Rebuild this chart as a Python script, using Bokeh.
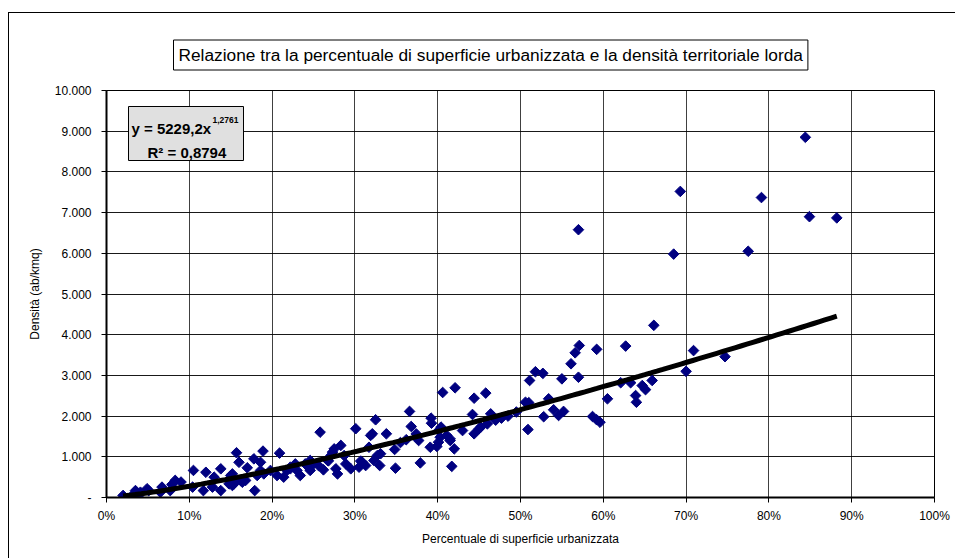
import math
from bokeh.plotting import figure
from bokeh.models import (Range1d, NumeralTickFormatter, CustomJSTickFormatter,
                          FixedTicker, Label, BoxAnnotation, ColumnDataSource, Title)
from bokeh.embed import file_html
from bokeh.resources import INLINE

# ---------------- data ----------------
# share of urbanised surface (fraction) and gross territorial density (ab/kmq)
urban_share = [
    0.570, 0.693, 0.685, 0.661, 0.791, 0.775, 0.844, 0.849, 0.882, 0.709,
    0.700, 0.747, 0.627, 0.571, 0.566, 0.592, 0.561, 0.518, 0.527, 0.511,
    0.550, 0.570, 0.621, 0.633, 0.647, 0.651, 0.659, 0.639, 0.640, 0.605,
    0.506, 0.510, 0.534, 0.540, 0.546, 0.552, 0.528, 0.587, 0.592, 0.596,
    0.509, 0.406, 0.421, 0.444, 0.458, 0.366, 0.325, 0.392, 0.368, 0.3925,
    0.338, 0.442, 0.464, 0.477, 0.460, 0.450, 0.444, 0.430, 0.404, 0.411,
    0.415, 0.401, 0.391, 0.399, 0.420, 0.377, 0.374, 0.348, 0.331, 0.330,
    0.323, 0.349, 0.379, 0.417, 0.321, 0.401, 0.403, 0.415, 0.452, 0.258,
    0.301, 0.319, 0.209, 0.189, 0.157, 0.160, 0.178, 0.186, 0.170, 0.179,
    0.275, 0.283, 0.271, 0.267, 0.287, 0.289, 0.277, 0.262, 0.295, 0.305,
    0.307, 0.313, 0.327, 0.317, 0.218, 0.206, 0.214, 0.230, 0.234, 0.246,
    0.250, 0.242, 0.228, 0.152, 0.162, 0.154, 0.168, 0.190, 0.198, 0.256,
    0.020, 0.035, 0.041, 0.049, 0.039, 0.067, 0.065, 0.077, 0.083, 0.079,
    0.105, 0.104, 0.120, 0.117, 0.130, 0.138, 0.138, 0.128, 0.150, 0.152,
    0.273, 0.279, 0.309, 0.222, 0.246, 0.222, 0.240, 0.033, 0.148, 0.164,
    0.182, 0.186, 0.090, 0.051, 0.355, 0.362, 0.470, 0.485, 0.495, 0.268,
]
density = [
    6580, 7520, 5980, 4230, 7370, 6050, 8850, 6900, 6870, 3610,
    3100, 3460, 3720, 3735, 3555, 3640, 3285, 3090, 3050, 2875,
    2915, 2955, 2820, 2820, 2750, 2650, 2875, 2505, 2340, 2425,
    2340, 2330, 2425, 2155, 2015, 2115, 1985, 1990, 1910, 1850,
    1670, 2580, 2695, 2440, 2565, 2115, 1910, 1950, 1745, 1825,
    1565, 2040, 2055, 1950, 1810, 1690, 1565, 1645, 1730, 1525,
    1400, 1360, 1235, 1255, 1195, 1400, 1565, 1180, 1075, 785,
    910, 720, 850, 765, 1565, 1645, 1480, 1440, 1730, 1605,
    1690, 1525, 1090, 1140, 1100, 865, 950, 865, 730, 170,
    1195, 1280, 1030, 910, 1030, 825, 705, 680, 705, 745,
    895, 785, 1030, 1235, 665, 540, 500, 665, 540, 665,
    825, 785, 825, 580, 420, 335, 420, 580, 665, 785,
    50, 170, 130, 215, 50, 255, 130, 170, 420, 320,
    665, 255, 620, 170, 500, 705, 170, 255, 540, 295,
    1115, 580, 865, 745, 910, 705, 825, 90, 335, 375,
    540, 665, 380, 170, 1350, 1420, 1900, 2000, 2100, 900,
]

# power trendline stated on the chart: y = 5229,2 x^1,2761
trend_coef = 5229.2
trend_exp = 1.2761

x_ticks = [0.0, 0.1, 0.2, 0.3, 0.4, 0.5, 0.6, 0.7, 0.8, 0.9, 1.0]
y_ticks = [0, 1000, 2000, 3000, 4000, 5000, 6000, 7000, 8000, 9000, 10000]

title_text = "Relazione tra la percentuale di superficie urbanizzata e la densità territoriale lorda"
x_label = "Percentuale di superficie urbanizzata"
y_label = "Densità (ab/kmq)"
eq_main = "y = 5229,2x"
eq_sup = "1,2761"
r2_text = "R² = 0,8794"

FONT = "Liberation Sans"

# ---------------- layout ----------------
W, H = 947, 546
BL, BT, BR, BB = 97, 77, 22, 62
FW, FH = W - BL - BR, H - BT - BB
X0, X1, Y0, Y1 = 0.0, 1.0, 0.0, 10000.0


def px(xp, yp):
    """figure pixel (from top-left of figure content) -> data coords"""
    return (X0 + (xp - BL) / FW * (X1 - X0), Y0 + (BT + FH - yp) / FH * (Y1 - Y0))


p = figure(width=W, height=H, output_backend="svg", toolbar_location=None,
           x_range=Range1d(X0, X1), y_range=Range1d(Y0, Y1),
           min_border_left=BL, min_border_top=BT, min_border_right=BR,
           min_border_bottom=BB, title=None)
p.styles = {"margin-left": "8px", "margin-top": "12px",
            "border-top": "1px solid #000", "border-left": "1px solid #000"}
p.background_fill_color = "white"
p.border_fill_color = "white"
p.outline_line_color = "black"
p.outline_line_width = 1

for ax in (p.xaxis[0], p.yaxis[0]):
    ax.axis_line_color = "black"
    ax.axis_line_width = 2
    ax.major_tick_line_color = "black"
    ax.major_tick_out = 5
    ax.major_tick_in = 0
    ax.minor_tick_line_color = None
    ax.major_label_text_font = FONT
    ax.major_label_text_font_size = "12px"
    ax.major_label_text_color = "black"
    ax.axis_label_text_font = FONT
    ax.axis_label_text_font_size = "12px"
    ax.axis_label_text_font_style = "normal"
    ax.axis_label_text_color = "black"

p.xaxis.ticker = FixedTicker(ticks=x_ticks)
p.yaxis.ticker = FixedTicker(ticks=y_ticks)
p.xaxis.formatter = NumeralTickFormatter(format="0%")
p.yaxis.formatter = CustomJSTickFormatter(code=r"""
if (Math.abs(tick) < 1e-9) { return "-"; }
return Math.round(tick).toString().replace(/\B(?=(\d{3})+(?!\d))/g, ".");
""")
p.xaxis.axis_label = x_label
p.yaxis.axis_label = y_label
p.xaxis.major_label_standoff = 6
p.yaxis.major_label_standoff = 10
p.xaxis.axis_label_standoff = 6
p.yaxis.axis_label_standoff = 10

p.xgrid.grid_line_color = "black"
p.ygrid.grid_line_color = "black"
p.xgrid.grid_line_alpha = 0.75
p.ygrid.grid_line_alpha = 0.9

src = ColumnDataSource(dict(x=urban_share, y=density))
p.scatter("x", "y", source=src, marker="square", angle=math.pi / 4, size=7.5,
          fill_color="#000080", line_color="#000080")

xmin, xmax = min(urban_share), max(urban_share)
n = 120
tx = [xmin + (xmax - xmin) * i / (n - 1) for i in range(n)]
ty = [trend_coef * v ** trend_exp for v in tx]
p.line(tx, ty, line_color="black", line_width=5)

# title box
p.add_layout(Title(text=title_text, align="left", offset=67, standoff=41,
                   text_font=FONT, text_font_size="17.3px", text_font_style="normal",
                   text_color="black", background_fill_color="white",
                   border_line_color="black", border_line_width=1, padding=5),
             "above")

# equation box
bx0, by0 = px(119, 93)
bx1, by1 = px(234, 147)
p.add_layout(BoxAnnotation(left=bx0, right=bx1, top=by0, bottom=by1,
                           fill_color="#e0e0e0", fill_alpha=1.0,
                           line_color="black", line_width=1, line_alpha=1.0))
ex, ey = px(122, 115)
p.add_layout(Label(x=ex, y=ey, text=eq_main, text_font=FONT, text_font_size="15px",
                   text_font_style="bold", text_color="black", text_baseline="alphabetic"))
sx, sy = px(203, 106)
p.add_layout(Label(x=sx, y=sy, text=eq_sup, text_font=FONT, text_font_size="8.5px",
                   text_font_style="bold", text_color="black", text_baseline="alphabetic"))
rx, ry = px(138, 139)
p.add_layout(Label(x=rx, y=ry, text=r2_text, text_font=FONT, text_font_size="15px",
                   text_font_style="bold", text_color="black", text_baseline="alphabetic"))

open("out.html", "w").write(file_html(p, INLINE))
